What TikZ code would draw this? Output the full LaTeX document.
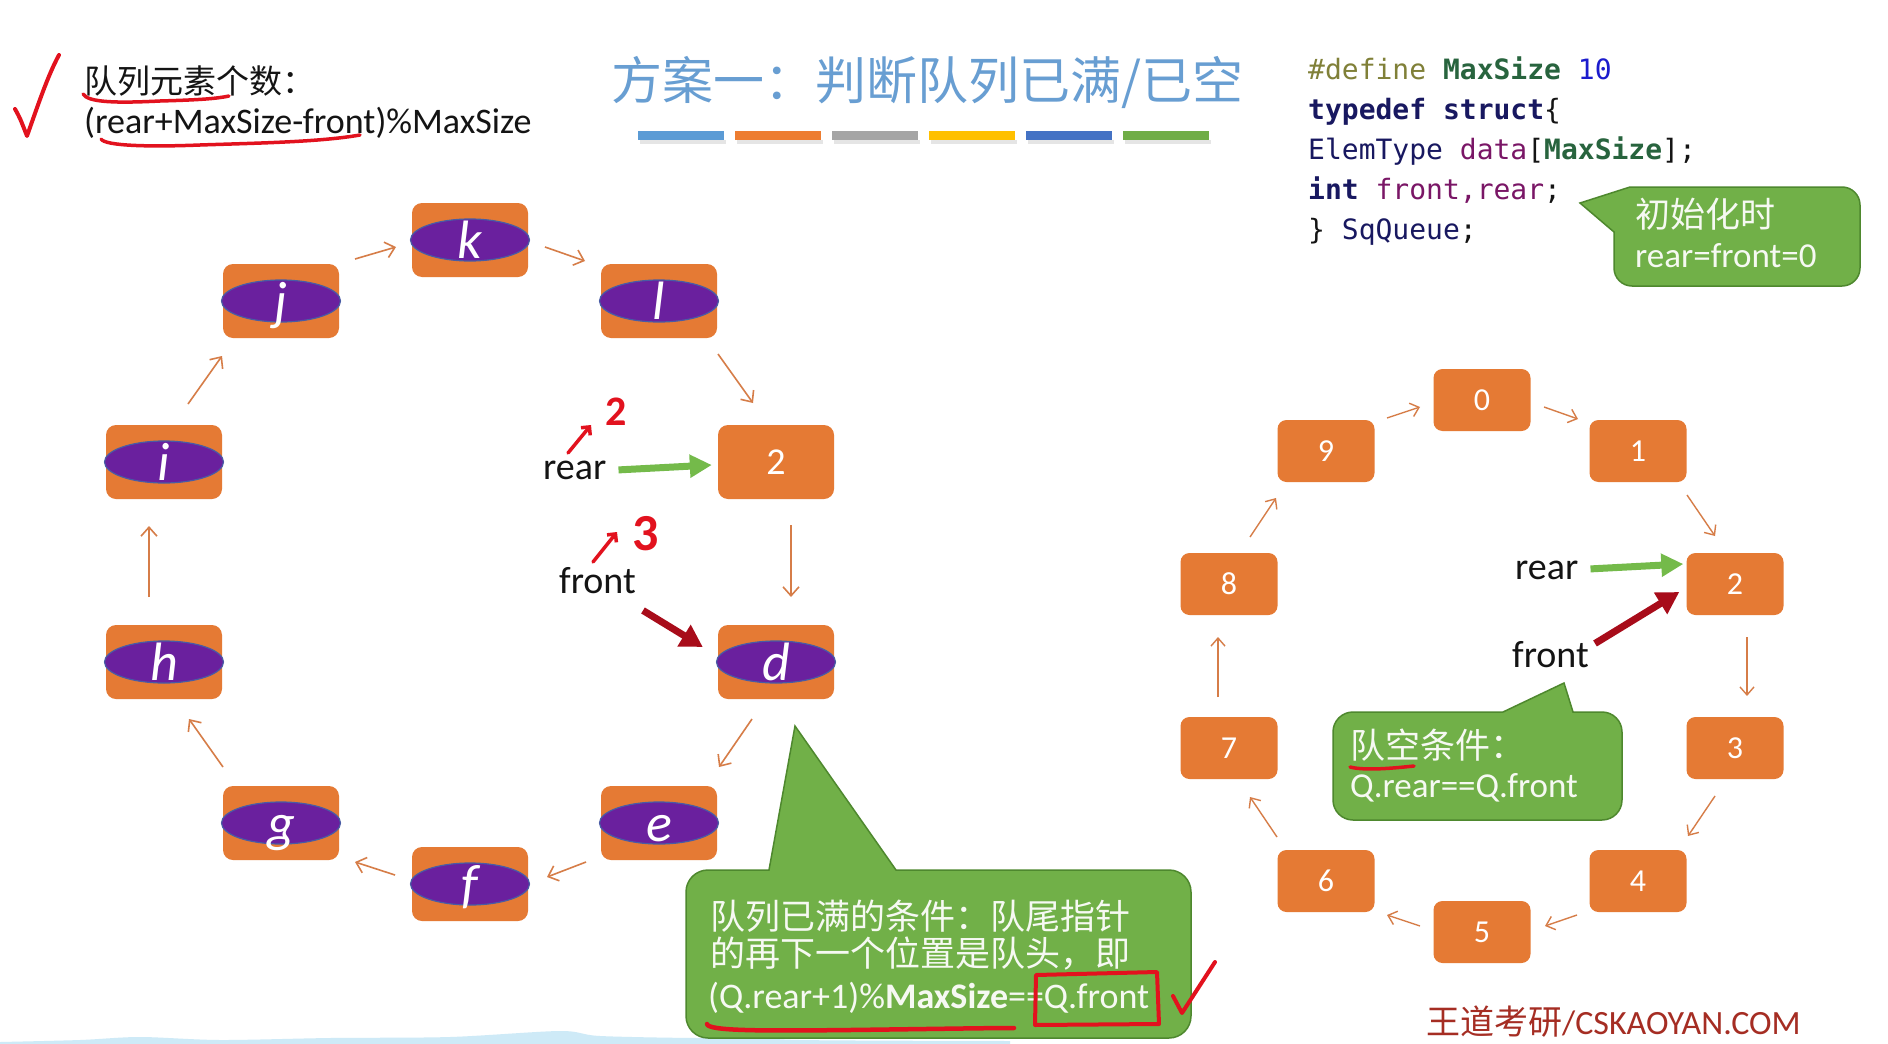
\documentclass[tikz,border=0pt]{standalone}
\usepackage{fontspec}
\setmainfont{Carlito}
\newfontfamily\cjk{Noto Sans CJK SC}
\newfontfamily\codefont{DejaVu Sans Mono}
\usetikzlibrary{arrows.meta,shapes.geometric}
\newcommand\setsize[2]{\fontsize{#1}{#2}\selectfont}

\definecolor{boxorange}{RGB}{229,122,52}
\definecolor{ovalpurple}{RGB}{106,32,158}
\definecolor{ovalrim}{RGB}{72,92,165}
\definecolor{linkorange}{RGB}{214,125,72}
\definecolor{titleblue}{RGB}{104,158,210}
\definecolor{penred}{RGB}{226,18,30}
\definecolor{ptrgreen}{RGB}{116,186,74}
\definecolor{ptrred}{RGB}{168,12,26}
\definecolor{bubblefill}{RGB}{113,176,72}
\definecolor{bubblerim}{RGB}{78,136,46}
\definecolor{bubbletext}{RGB}{246,249,242}
\definecolor{barA}{RGB}{91,155,213}
\definecolor{barB}{RGB}{237,125,49}
\definecolor{barC}{RGB}{165,165,165}
\definecolor{barD}{RGB}{255,192,0}
\definecolor{barE}{RGB}{68,114,196}
\definecolor{barF}{RGB}{112,173,71}
\definecolor{kwnavy}{RGB}{24,24,96}
\definecolor{ppgreen}{RGB}{40,100,62}
\definecolor{ppolive}{RGB}{128,128,56}
\definecolor{numblue}{RGB}{28,28,205}
\definecolor{varpurple}{RGB}{122,22,102}
\definecolor{sitered}{RGB}{165,45,35}
\definecolor{wave}{RGB}{206,234,247}
\definecolor{ink}{RGB}{20,20,20}

\tikzset{
  bigbox/.style={rectangle, rounded corners=10pt, fill=boxorange,
    minimum width=116pt, minimum height=74pt, inner sep=0pt},
  smallbox/.style={rectangle, rounded corners=9pt, fill=boxorange,
    minimum width=97pt, minimum height=62pt, inner sep=0pt},
  oval/.style={ellipse, fill=ovalpurple, draw=ovalrim, line width=1.2pt,
    minimum width=119pt, minimum height=42pt, inner sep=0pt},
  letter/.style={anchor=base, inner sep=0pt, text=white,
    font={\setsize{54}{62}\itshape}},
  digitbig/.style={anchor=base, inner sep=0pt, text=white, font={\setsize{38}{46}}},
  digitsmall/.style={anchor=base, inner sep=0pt, text=white, font={\setsize{32}{38}}},
  link/.style={draw=linkorange, line width=1.6pt,
    -{Straight Barb[length=9pt,width=16pt]}},
  slink/.style={draw=linkorange, line width=1.4pt,
    -{Straight Barb[length=8pt,width=14pt]}},
  lbl/.style={anchor=base west, inner sep=0pt, text=ink, font={\setsize{38}{46}}},
  fatgreen/.style={draw=ptrgreen, line width=7pt, -{Triangle[length=22pt,width=22pt]}},
  fatred/.style={draw=ptrred, line width=7pt, -{Triangle[length=22pt,width=24pt]}},
  bubble/.style={fill=bubblefill, draw=bubblerim, line width=1.5pt},
  btext/.style={inner sep=0pt, text=bubbletext, font={\setsize{35}{42}}},
  code/.style={anchor=base west, inner sep=0pt, text=ink, font={\codefont\setsize{28}{34}}},
  redpen/.style={draw=penred, line width=3.5pt, line cap=round, line join=round},
}

\begin{document}
\begin{tikzpicture}[x=1pt,y=-1pt]
\useasboundingbox (0,0) rectangle (1888,1044);
\clip (0,0) rectangle (1888,1044);
\fill[white] (0,0) rectangle (1888,1044);

% faint wash along the lower edge
\fill[wave] plot[smooth] coordinates {(0,1042) (80,1040) (140,1037) (220,1040)
  (330,1038) (450,1037) (560,1031) (600,1036) (700,1038) (745,1036) (800,1040) (1010,1041)}
  -- (1010,1044) -- (0,1044) -- cycle;

% ---------- heading ----------
\node[anchor=west, inner sep=0pt, text=ink, font={\setsize{33}{40}}] (count1) at (84,81)
  {\cjk 队列元素个数：};
\node[anchor=base west, inner sep=0pt, text=ink, font={\setsize{36}{43}}] (count2) at (84,133)
  {(rear+MaxSize-front)\%MaxSize};

\node[inner sep=0pt, text=titleblue, font={\setsize{51}{60}}] (title) at (927,82)
  {\cjk 方案一：判断队列已满/已空};

\foreach \c [count=\i from 0] in {barA,barB,barC,barD,barE,barF} {
  \fill[black!10] ({640+97*\i},140) rectangle ++(86,4);
  \fill[\c] ({638+97*\i},131) rectangle ++(86,9);
}

% ---------- code ----------
\node[code] (c1) at (1308,79) {{\color{ppolive}\#define} {\bfseries\color{ppgreen}MaxSize} {\color{numblue}10}};
\node[code] (c2) at (1308,119) {{\bfseries\color{kwnavy}typedef struct}\{};
\node[code] (c3) at (1308,159) {{\color{kwnavy}ElemType} {\color{varpurple}data}[{\bfseries\color{ppgreen}MaxSize}];};
\node[code] (c4) at (1308,199) {{\bfseries\color{kwnavy}int} {\color{varpurple}front,rear};};
\node[code] (c5) at (1308,239) {\} {\color{kwnavy}SqQueue};};

% ---------- callouts ----------
\draw[bubble] (1614,232) [rounded corners=18pt] -- (1614,286) -- (1860,286) -- (1860,187)
  -- (1665,187) [sharp corners] -- (1630,187) -- (1580,203) -- cycle;
\node[btext, anchor=west] (init1) at (1635,214) {\cjk 初始化时};
\node[btext, anchor=base west] (init2) at (1635,267) {rear=front=0};

\draw[bubble] (896,870) [rounded corners=22pt] -- (1191,870) -- (1191,1038) -- (686,1038)
  -- (686,870) -- (730,870) [sharp corners] -- (769,870) -- (795,726) -- cycle;
\node[btext, anchor=west] (full1) at (710,916) {\cjk 队列已满的条件：队尾指针};
\node[btext, anchor=west] (full2) at (710,954) {\cjk 的再下一个位置是队头，即};
\node[btext, anchor=base west, font={\setsize{36}{43}}] (full3) at (708,1008) {(Q.rear+1)\%{\bfseries MaxSize}==Q.front};

\draw[bubble] (1573,712) [rounded corners=20pt] -- (1622,712) -- (1622,820) -- (1333,820)
  -- (1333,712) -- (1460,712) [sharp corners] -- (1503,712) -- (1564,683) -- cycle;
\node[btext, anchor=west] (empty1) at (1350,745) {\cjk 队空条件：};
\node[btext, anchor=base west] (empty2) at (1350,797) {Q.rear==Q.front};

% ---------- full queue ring ----------
\foreach \n/\x/\y in {k/470/240, l/659/301, d/776/662, e/659/823, f/470/884,
                      g/281/823, h/164/662, i/164/462, j/281/301} {
  \node[bigbox] (L\n) at (\x,\y) {};
  \node[oval] (O\n) at (L\n) {};
  \node[letter] (T\n) at ([shift={(0,18)}]O\n.center) {\n};
}
\node[bigbox] (L2) at (776,462) {};
\node[digitbig] (T2) at ([shift={(0,12)}]L2.center) {2};

\foreach \a/\b/\sx/\sy/\ex/\ey in {j/k/74/-42/-74/7, k/l/75/7/-74/-40, l/2/59/53/-23/-59,
    2/d/15/63/15/-65, d/e/-24/57/60/-56, e/f/-73/39/77/-7, f/g/-75/-9/74/39,
    g/h/-58/-56/25/57, h/i/-15/-65/-15/64, i/j/24/-58/-59/55} {
  \draw[link] ([shift={(\sx,\sy)}]L\a.center) -- ([shift={(\ex,\ey)}]L\b.center);
}

\node[lbl] (rearL) at (543,479) {rear};
\node[lbl] (frontL) at (559,593) {front};
\draw[fatgreen] ([shift={(12,0)}]rearL.east) -- ([shift={(-6,3)}]L2.west);
\draw[fatred] ([shift={(7,17)}]frontL.south east) -- ([shift={(-15,-15)}]Ld.west);

% pen notes
\draw[redpen, -{Straight Barb[length=6pt,width=12pt]}] (568,453) -- (591,425);
\node[anchor=base west, inner sep=0pt, text=penred, font={\setsize{42}{50}\bfseries}] (two) at (605,425) {2};
\draw[redpen, -{Straight Barb[length=6pt,width=12pt]}] (593,562) -- (617,532);
\node[anchor=base west, inner sep=0pt, text=penred, font={\setsize{52}{60}\bfseries}] (three) at (632,550) {3};

% ---------- empty queue ring ----------
\foreach \n/\x/\y in {0/1482/400, 1/1638/451, 2/1735/584, 3/1735/748, 4/1638/881,
                      5/1482/932, 6/1326/881, 7/1229/748, 8/1229/584, 9/1326/451} {
  \node[smallbox] (R\n) at (\x,\y) {};
  \node[digitsmall] (D\n) at ([shift={(0,10)}]R\n.center) {\n};
}
\foreach \a/\b/\sx/\sy/\ex/\ey in {9/0/61/-33/-62/7, 0/1/62/7/-60/-32, 1/2/49/44/-20/-48,
    2/3/12/53/12/-52, 3/4/-20/48/50/-45, 4/5/-61/34/63/-6, 5/6/-62/-6/61/34,
    6/7/-49/-44/21/49, 7/8/-11/-51/-11/53, 8/9/21/-47/-50/47} {
  \draw[slink] ([shift={(\sx,\sy)}]R\a.center) -- ([shift={(\ex,\ey)}]R\b.center);
}

\node[lbl] (rearR) at (1515,579) {rear};
\node[lbl] (frontR) at (1512,667) {front};
\draw[fatgreen] ([shift={(12,-1)}]rearR.east) -- ([shift={(-3,-20)}]R2.west);
\draw[fatred] ([shift={(6,-24)}]frontR.south east) -- ([shift={(-7,8)}]R2.west);

% ---------- pen marks ----------
\draw[redpen, line width=4pt] (15,109) .. controls (20,118) .. (27,136) .. controls (38,105) and (48,75) .. (59,55);
\draw[redpen] (83,94) .. controls (88,103) and (120,103) .. (160,101) .. controls (195,100) and (215,99) .. (229,96);
\draw[redpen] (101,139) .. controls (105,146) and (150,147) .. (200,145) .. controls (260,143) and (320,142) .. (360,135);
\draw[redpen, line width=4.5pt] (707,1024) .. controls (708,1031) and (760,1031) .. (850,1030) .. controls (930,1029) and (990,1028) .. (1014,1028);
\draw[redpen, line width=4pt] (1036,975) -- (1157,972) -- (1159,1024) -- (1035,1025) -- cycle;
\draw[redpen, line width=4pt] (1173,996) -- (1182,1013) -- (1215,962);
\draw[redpen] (1350,767) .. controls (1365,771) and (1395,768) .. (1414,766);

% ---------- footer ----------
\node[anchor=base west, inner sep=0pt, text=sitered, font={\setsize{34}{41}}] (site) at (1426,1034)
  {{\cjk 王道考研}/CSKAOYAN.COM};
\end{tikzpicture}
\end{document}
